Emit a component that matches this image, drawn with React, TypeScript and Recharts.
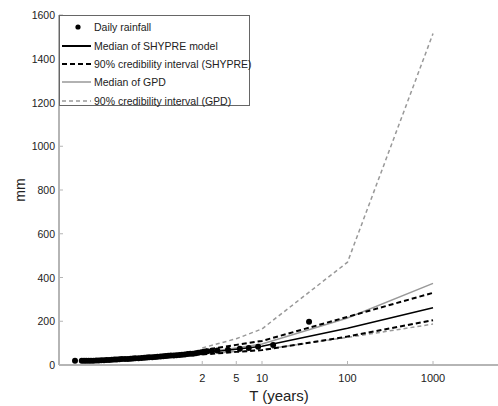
import { ComposedChart, Line, Scatter, XAxis, YAxis, Legend } from 'recharts'

// return periods (years) where the model curves are given
const returnPeriods = [2, 5, 10, 100, 1000]
const shypreMedian = [55, 72, 86, 168, 262]
const shypreUpper = [68, 92, 110, 220, 330]
const shypreLower = [48, 60, 68, 130, 205]
const gpdMedian = [57, 78, 96, 215, 373]
const gpdUpper = [78, 120, 165, 470, 1515]
const gpdLower = [50, 62, 70, 126, 187]

// observed daily rainfall (return period in years, mm)
const rainfallT = [
  0.065, 0.078, 0.083, 0.088, 0.094, 0.1, 0.107, 0.115, 0.123, 0.132, 0.142, 0.152, 0.163, 0.175, 0.188, 0.2,
  0.215, 0.23, 0.25, 0.27, 0.29, 0.31, 0.33, 0.36, 0.39, 0.42, 0.45, 0.48, 0.52, 0.56, 0.6, 0.65, 0.7, 0.75,
  0.8, 0.86, 0.93, 1.0, 1.08, 1.16, 1.25, 1.35, 1.45, 1.56, 1.68, 1.8, 1.95, 2.1, 2.3, 2.6, 3, 4, 5.5, 7, 9,
  13.5, 35.5,
]
const rainfallMm = [
  19, 19, 19, 19, 20, 20, 20, 21, 21, 22, 22, 23, 23, 24, 25, 25,
  26, 27, 27, 28, 29, 30, 31, 31, 32, 33, 34, 35, 36, 37, 38, 39, 40, 41,
  42, 43, 44, 45, 46, 47, 48, 50, 51, 52, 54, 56, 58, 61, 63, 65, 66, 70, 74, 78, 84,
  92, 198,
]

const xTicks = [2, 5, 10, 100, 1000]
const yTicks = [0, 200, 400, 600, 800, 1000, 1200, 1400, 1600]

const curves = returnPeriods.map((T, i) => ({
  T,
  shypreMedian: shypreMedian[i],
  shypreUpper: shypreUpper[i],
  shypreLower: shypreLower[i],
  gpdMedian: gpdMedian[i],
  gpdUpper: gpdUpper[i],
  gpdLower: gpdLower[i],
}))

const rainfall = rainfallT.map((T, i) => ({ T, mm: rainfallMm[i] }))

const FONT = '"Liberation Sans", Arial, sans-serif'
const AXIS = '#b5b5b5'

const legendItems = [
  { label: 'Daily rainfall', kind: 'dot' },
  { label: 'Median of SHYPRE model', kind: 'line', color: '#000', dash: undefined, width: 2 },
  { label: '90% credibility interval (SHYPRE)', kind: 'line', color: '#000', dash: '5 3', width: 2 },
  { label: 'Median of GPD', kind: 'line', color: '#999', dash: undefined, width: 1.5 },
  { label: '90% credibility interval (GPD)', kind: 'line', color: '#999', dash: '4 3', width: 1.5 },
]

function LegendBox() {
  return (
    <div
      style={{
        border: '1px solid #666',
        background: '#fff',
        width: 191,
        height: 91,
        boxSizing: 'border-box',
        paddingTop: 2,
        fontFamily: FONT,
        fontSize: 10.5,
        color: '#222',
      }}
    >
      {legendItems.map((item) => (
        <div key={item.label} style={{ display: 'flex', alignItems: 'center', height: 18.4 }}>
          <svg width={34} height={10} style={{ flex: 'none' }}>
            {item.kind === 'dot' ? (
              <circle cx={18} cy={5} r={2.6} fill="#000" />
            ) : (
              <line x1={2} x2={31} y1={5} y2={5} stroke={item.color} strokeWidth={item.width} strokeDasharray={item.dash} />
            )}
          </svg>
          <span style={{ whiteSpace: 'nowrap' }}>{item.label}</span>
        </div>
      ))}
    </div>
  )
}

function XTick({ x, y, payload }: any) {
  return (
    <g>
      <line x1={x} x2={x} y1={y} y2={y - 4} stroke={AXIS} strokeWidth={1} />
      <text x={x} y={y + 17} textAnchor="middle" fontSize={11} fontFamily={FONT} fill="#222">
        {payload.value}
      </text>
    </g>
  )
}

function YTick({ x, y, payload }: any) {
  return (
    <g>
      <line x1={x} x2={x + 4} y1={y} y2={y} stroke={AXIS} strokeWidth={1} />
      <text x={x - 4} y={y + 4} textAnchor="end" fontSize={10.5} fontFamily={FONT} fill="#222">
        {payload.value}
      </text>
    </g>
  )
}

const dot = (p: any) => <circle cx={p.cx} cy={p.cy} r={3} fill="#000" />

export default function App() {
  return (
    <div style={{ position: 'absolute', left: 0, top: 0, background: '#fff' }}>
      <ComposedChart width={498} height={406} data={curves} margin={{ top: 15, right: 0, bottom: 0, left: 0 }}>
        <XAxis
          dataKey="T"
          type="number"
          scale="log"
          domain={[0.04224, 5754]}
          allowDataOverflow
          ticks={xTicks}
          interval={0}
          height={41}
          tickSize={0}
          tickMargin={0}
          tickLine={false}
          tick={<XTick />}
          axisLine={{ stroke: AXIS, strokeWidth: 2 }}
          label={{
            content: () => (
              <text x={279} y={401} textAnchor="middle" fontSize={15} fontFamily={FONT} fill="#222">
                T (years)
              </text>
            ),
          }}
        />
        <YAxis
          type="number"
          domain={[0, 1600]}
          ticks={yTicks}
          interval={0}
          width={59}
          tickSize={0}
          tickMargin={0}
          tickLine={false}
          tick={<YTick />}
          axisLine={{ stroke: AXIS, strokeWidth: 2 }}
          label={{
            content: () => (
              <text x={25} y={190} transform="rotate(-90, 25, 190)" textAnchor="middle" fontSize={14} fontFamily={FONT} fill="#222">
                mm
              </text>
            ),
          }}
        />
        <Legend layout="vertical" align="center" verticalAlign="middle" content={() => <LegendBox />} wrapperStyle={{ left: 59, top: 15, width: 191 }} />
        <Line dataKey="gpdUpper" stroke="#999" strokeWidth={1.5} strokeDasharray="4 3" dot={false} isAnimationActive={false} />
        <Line dataKey="gpdLower" stroke="#999" strokeWidth={1.5} strokeDasharray="4 3" dot={false} isAnimationActive={false} />
        <Line dataKey="gpdMedian" stroke="#999" strokeWidth={1.5} dot={false} isAnimationActive={false} />
        <Line dataKey="shypreUpper" stroke="#000" strokeWidth={2} strokeDasharray="5 3" dot={false} isAnimationActive={false} />
        <Line dataKey="shypreLower" stroke="#000" strokeWidth={2} strokeDasharray="5 3" dot={false} isAnimationActive={false} />
        <Line dataKey="shypreMedian" stroke="#000" strokeWidth={1.5} dot={false} isAnimationActive={false} />
        <Scatter data={rainfall} dataKey="mm" shape={dot} isAnimationActive={false} />
      </ComposedChart>
    </div>
  )
}
